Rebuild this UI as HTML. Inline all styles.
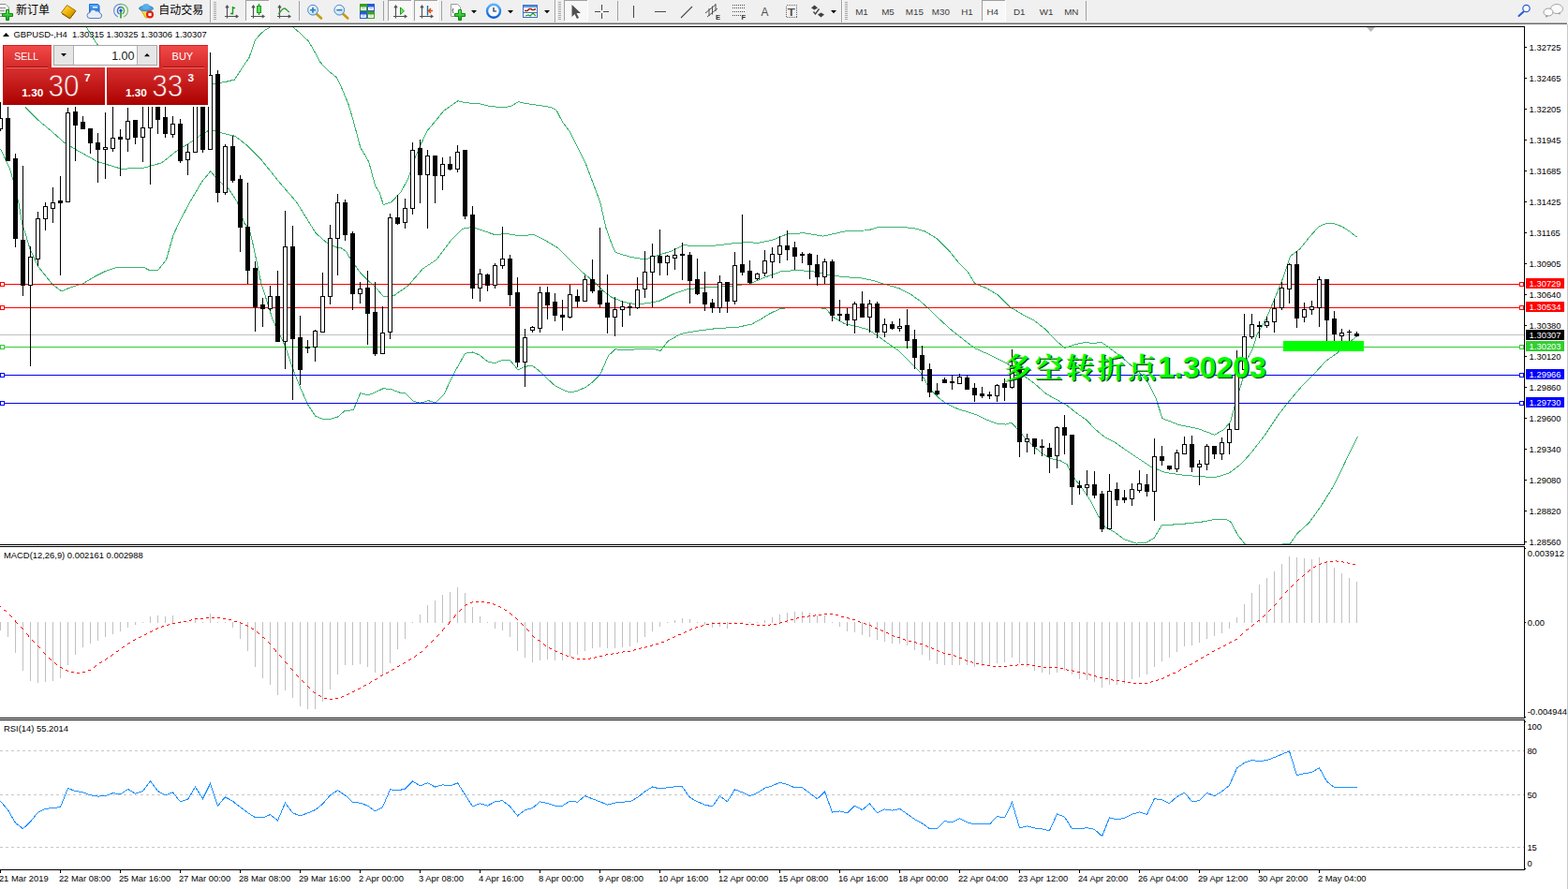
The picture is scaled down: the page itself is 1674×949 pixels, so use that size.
<!DOCTYPE html><html><head><meta charset="utf-8"><title>GBPUSD H4</title>
<style>html,body{margin:0;padding:0;background:#fff;}body{width:1674px;height:949px;overflow:hidden;position:relative;font-family:"Liberation Sans", sans-serif;}svg{position:absolute;left:0;top:0;display:block}text{font-family:"Liberation Sans", sans-serif;}</style></head><body>
<svg width="1674" height="949" viewBox="0 0 1674 949">
<defs><clipPath id="cm"><rect x="0" y="29" width="1627" height="552"/></clipPath>
<linearGradient id="rg1" x1="0" y1="0" x2="0" y2="1"><stop offset="0" stop-color="#f24a4a"/><stop offset="1" stop-color="#d62a2a"/></linearGradient>
<linearGradient id="rg2" x1="0" y1="0" x2="0" y2="1"><stop offset="0" stop-color="#d83030"/><stop offset="1" stop-color="#ab0000"/></linearGradient>
<linearGradient id="rg2u" gradientUnits="userSpaceOnUse" x1="0" y1="72" x2="0" y2="112"><stop offset="0" stop-color="#d83030"/><stop offset="1" stop-color="#ab0000"/></linearGradient>
</defs>
<rect x="0" y="0" width="1674" height="949" fill="#fff"/>
<defs>
<linearGradient id="gold" x1="0" y1="0" x2="1" y2="1"><stop offset="0" stop-color="#ffe680"/><stop offset="0.5" stop-color="#f0b400"/><stop offset="1" stop-color="#b07800"/></linearGradient>
<linearGradient id="grn" x1="0" y1="0" x2="0" y2="1"><stop offset="0" stop-color="#6cf06c"/><stop offset="1" stop-color="#0aa00a"/></linearGradient>
<linearGradient id="blu" x1="0" y1="0" x2="0" y2="1"><stop offset="0" stop-color="#5ab4ff"/><stop offset="1" stop-color="#0a5ad0"/></linearGradient>
<radialGradient id="lens" cx="0.4" cy="0.35" r="0.7"><stop offset="0" stop-color="#ffffff"/><stop offset="1" stop-color="#b9dcf5"/></radialGradient>
<pattern id="chk" width="2" height="2" patternUnits="userSpaceOnUse"><rect width="2" height="2" fill="#fff"/><rect width="1" height="1" fill="#f0f0f0"/><rect x="1" y="1" width="1" height="1" fill="#f0f0f0"/></pattern>
</defs>
<g shape-rendering="crispEdges">
<rect x="0" y="0" width="1674" height="24" fill="#f0f0f0"/>
<rect x="0" y="24" width="1673" height="1" fill="#b2b2b2"/>
<rect x="0" y="25" width="1673" height="1" fill="#6a6a6a"/>
<rect x="224" y="0" width="1" height="24" fill="#a0a0a0"/><rect x="225" y="0" width="1" height="24" fill="#fff"/>
<rect x="592" y="0" width="1" height="24" fill="#a0a0a0"/><rect x="593" y="0" width="1" height="24" fill="#fff"/>
<rect x="898" y="0" width="1" height="24" fill="#a0a0a0"/><rect x="899" y="0" width="1" height="24" fill="#fff"/>
<rect x="319" y="1" width="1" height="21" fill="#a0a0a0"/>
<rect x="409" y="1" width="1" height="21" fill="#a0a0a0"/>
<rect x="471" y="1" width="1" height="21" fill="#a0a0a0"/>
<rect x="659" y="1" width="1" height="21" fill="#a0a0a0"/>
<rect x="1159" y="1" width="1" height="21" fill="#a0a0a0"/>
<rect x="228" y="2" width="3" height="1" fill="#a8a8a8"/>
<rect x="228" y="4" width="3" height="1" fill="#a8a8a8"/>
<rect x="228" y="6" width="3" height="1" fill="#a8a8a8"/>
<rect x="228" y="8" width="3" height="1" fill="#a8a8a8"/>
<rect x="228" y="10" width="3" height="1" fill="#a8a8a8"/>
<rect x="228" y="12" width="3" height="1" fill="#a8a8a8"/>
<rect x="228" y="14" width="3" height="1" fill="#a8a8a8"/>
<rect x="228" y="16" width="3" height="1" fill="#a8a8a8"/>
<rect x="228" y="18" width="3" height="1" fill="#a8a8a8"/>
<rect x="228" y="20" width="3" height="1" fill="#a8a8a8"/>
<rect x="596" y="2" width="3" height="1" fill="#a8a8a8"/>
<rect x="596" y="4" width="3" height="1" fill="#a8a8a8"/>
<rect x="596" y="6" width="3" height="1" fill="#a8a8a8"/>
<rect x="596" y="8" width="3" height="1" fill="#a8a8a8"/>
<rect x="596" y="10" width="3" height="1" fill="#a8a8a8"/>
<rect x="596" y="12" width="3" height="1" fill="#a8a8a8"/>
<rect x="596" y="14" width="3" height="1" fill="#a8a8a8"/>
<rect x="596" y="16" width="3" height="1" fill="#a8a8a8"/>
<rect x="596" y="18" width="3" height="1" fill="#a8a8a8"/>
<rect x="596" y="20" width="3" height="1" fill="#a8a8a8"/>
<rect x="902" y="2" width="3" height="1" fill="#a8a8a8"/>
<rect x="902" y="4" width="3" height="1" fill="#a8a8a8"/>
<rect x="902" y="6" width="3" height="1" fill="#a8a8a8"/>
<rect x="902" y="8" width="3" height="1" fill="#a8a8a8"/>
<rect x="902" y="10" width="3" height="1" fill="#a8a8a8"/>
<rect x="902" y="12" width="3" height="1" fill="#a8a8a8"/>
<rect x="902" y="14" width="3" height="1" fill="#a8a8a8"/>
<rect x="902" y="16" width="3" height="1" fill="#a8a8a8"/>
<rect x="902" y="18" width="3" height="1" fill="#a8a8a8"/>
<rect x="902" y="20" width="3" height="1" fill="#a8a8a8"/>
<rect x="262" y="0" width="25" height="22" fill="url(#chk)"/>
<rect x="262" y="0" width="25" height="1" fill="#a0a0a0"/><rect x="262" y="0" width="1" height="22" fill="#a0a0a0"/>
<rect x="262" y="22" width="25" height="1" fill="#fff"/><rect x="287" y="0" width="1" height="23" fill="#fff"/>
<rect x="414" y="0" width="25" height="22" fill="url(#chk)"/>
<rect x="414" y="0" width="25" height="1" fill="#a0a0a0"/><rect x="414" y="0" width="1" height="22" fill="#a0a0a0"/>
<rect x="414" y="22" width="25" height="1" fill="#fff"/><rect x="439" y="0" width="1" height="23" fill="#fff"/>
<rect x="442" y="0" width="25" height="22" fill="url(#chk)"/>
<rect x="442" y="0" width="25" height="1" fill="#a0a0a0"/><rect x="442" y="0" width="1" height="22" fill="#a0a0a0"/>
<rect x="442" y="22" width="25" height="1" fill="#fff"/><rect x="467" y="0" width="1" height="23" fill="#fff"/>
<rect x="602" y="0" width="25" height="22" fill="url(#chk)"/>
<rect x="602" y="0" width="25" height="1" fill="#a0a0a0"/><rect x="602" y="0" width="1" height="22" fill="#a0a0a0"/>
<rect x="602" y="22" width="25" height="1" fill="#fff"/><rect x="627" y="0" width="1" height="23" fill="#fff"/>
<rect x="1048" y="0" width="25" height="22" fill="url(#chk)"/>
<rect x="1048" y="0" width="25" height="1" fill="#a0a0a0"/><rect x="1048" y="0" width="1" height="22" fill="#a0a0a0"/>
<rect x="1048" y="22" width="25" height="1" fill="#fff"/><rect x="1073" y="0" width="1" height="23" fill="#fff"/>
</g>
<path d="M-1 4.5h7l3.5 3.5v9.5h-10.5z" fill="#fff" stroke="#8c8c8c" stroke-width="1"/>
<path d="M0 8.5h6M0 11.5h5M0 14.5h3" stroke="#9a9a9a" stroke-width="1.5"/>
<path d="M6.500 10.500h3v4h4v3h-4v4h-3v-4h-4v-3h4z" fill="url(#grn)" stroke="#0a8a0a" stroke-width="1"/>
<text x="17" y="14.6" font-size="12" fill="#000" style="font-family:'Liberation Sans','Noto Sans CJK SC',sans-serif">新订单</text>
<path d="M65.5 13.5L71.5 5.5L81 11.5L75 19.5z" fill="url(#gold)" stroke="#a87400" stroke-width="1"/>
<path d="M66 14.5L74.5 20L80.5 12" fill="none" stroke="#8a5a00" stroke-width="1"/>
<path d="M95.5 4.5h9l1.5 1.5v9h-10.5z" fill="url(#blu)" stroke="#1a6fd0" stroke-width="1"/>
<rect x="99" y="7" width="5" height="1.5" fill="#e8f4ff"/>
<path d="M96 19.5a3 3 0 0 1 0-6a3.5 3.5 0 0 1 6.5-1.5a3 3 0 0 1 4 2a2.8 2.8 0 0 1-0.5 5.5z" fill="#e6eef8" stroke="#5a7fc0" stroke-width="1"/>
<g fill="none" stroke-width="1.3">
<path d="M129 4.5a7 7 0 0 0 -3 13.5" stroke="#6a8fd8"/><path d="M129 7.5a4 4 0 0 0 -1.5 7.5" stroke="#3a6ad0"/>
<path d="M129 4.5a7 7 0 0 1 3 13.5" stroke="#7ab87a"/><path d="M129 7.5a4 4 0 0 1 1.5 7.5" stroke="#4aa84a"/>
</g><path d="M129 11v8.5" stroke="#22a022" stroke-width="1.6"/><circle cx="129" cy="11.2" r="1.6" fill="#2255cc"/>
<path d="M150.5 10.5h11l-4 8.5h-2z" fill="#ffd84a" stroke="#d8a800" stroke-width="1"/>
<ellipse cx="156" cy="9" rx="7.5" ry="2.8" fill="#4aa0e0" stroke="#2a78b8" stroke-width="0.8"/><ellipse cx="156" cy="7" rx="3.8" ry="3" fill="#5ab0ea"/>
<circle cx="160" cy="15.5" r="4" fill="#e02010"/><rect x="158.4" y="13.9" width="3.2" height="3.2" fill="#fff"/>
<text x="169.3" y="14.6" font-size="12" fill="#000" style="font-family:'Liberation Sans','Noto Sans CJK SC',sans-serif">自动交易</text>
<path d="M242.5 19.5V6M240.9 8.3l1.6-2.3l1.6 2.3M240 17.5H254 M251.7 15.9l2.300 1.600l-2.300 1.600" fill="none" stroke="#505050" stroke-width="1.15"/>
<path d="M248.5 7v8.5M246 14.5h2.5M248.5 8.5h2.5" stroke="#1a9a1a" stroke-width="1.4" fill="none"/>
<path d="M270.5 19.5V6M268.9 8.3l1.6-2.3l1.6 2.3M268 17.5H282 M279.7 15.9l2.300 1.600l-2.300 1.600" fill="none" stroke="#505050" stroke-width="1.15"/>
<path d="M276.5 4v12" stroke="#1a9a1a" stroke-width="1.4"/><rect x="274.5" y="6.5" width="4" height="7" fill="#5ae05a" stroke="#1a9a1a" stroke-width="1"/>
<path d="M298.5 19.5V6M296.9 8.3l1.6-2.3l1.6 2.3M296 17.5H310 M307.7 15.9l2.300 1.600l-2.300 1.600" fill="none" stroke="#505050" stroke-width="1.15"/>
<path d="M297 15c3-2 4-6 6.5-6s3 3 5.500 4" fill="none" stroke="#2aa02a" stroke-width="1.3"/>
<path d="M337.5 14.5l5.5 5" stroke="#c89a10" stroke-width="2.6" stroke-linecap="round"/>
<circle cx="334" cy="10.7" r="5.4" fill="url(#lens)" stroke="#4a8ad0" stroke-width="1"/>
<path d="M331 10.7h6" stroke="#3a80b8" stroke-width="1.8"/>
<path d="M334 7.7v6" stroke="#3a80b8" stroke-width="1.8"/>
<path d="M365.8 14.5l5.5 5" stroke="#c89a10" stroke-width="2.6" stroke-linecap="round"/>
<circle cx="362.3" cy="10.7" r="5.4" fill="url(#lens)" stroke="#4a8ad0" stroke-width="1"/>
<path d="M359.3 10.7h6" stroke="#3a80b8" stroke-width="1.8"/>
<rect x="384" y="4" width="8" height="8" fill="#3aa01a"/>
<rect x="385" y="7.5" width="6" height="3.5" fill="#f4f8ff"/><rect x="386.5" y="8.5" width="3" height="1" fill="#3aa01a" opacity="0.5"/>
<rect x="392" y="4" width="8" height="8" fill="#2a5ad8"/>
<rect x="393" y="7.5" width="6" height="3.5" fill="#f4f8ff"/><rect x="394.5" y="8.5" width="3" height="1" fill="#2a5ad8" opacity="0.5"/>
<rect x="384" y="12" width="8" height="8" fill="#2a5ad8"/>
<rect x="385" y="15.5" width="6" height="3.5" fill="#f4f8ff"/><rect x="386.5" y="16.5" width="3" height="1" fill="#2a5ad8" opacity="0.5"/>
<rect x="392" y="12" width="8" height="8" fill="#3aa01a"/>
<rect x="393" y="15.5" width="6" height="3.5" fill="#f4f8ff"/><rect x="394.5" y="16.5" width="3" height="1" fill="#3aa01a" opacity="0.5"/>
<path d="M422.5 19.5V6M420.9 8.3l1.6-2.3l1.6 2.3M420 17.5H434 M431.7 15.9l2.300 1.600l-2.300 1.600" fill="none" stroke="#505050" stroke-width="1.15"/>
<path d="M427.5 8v7.5l4-3.7z" fill="#7ae07a" stroke="#1a9a1a" stroke-width="1"/>
<path d="M450.5 19.5V6M448.9 8.3l1.6-2.3l1.6 2.3M448 17.5H462 M459.7 15.9l2.300 1.600l-2.300 1.600" fill="none" stroke="#505050" stroke-width="1.15"/>
<path d="M456.5 6v10.5" stroke="#1a6ab0" stroke-width="1.4"/><path d="M457.5 11.5h4.5M460 9l-2.5 2.5l2.5 2.5" stroke="#e04800" stroke-width="1.4" fill="none"/>
<path d="M481.5 4.5h7l3 3v10h-10z" fill="#fff" stroke="#9a9a9a" stroke-width="1"/>
<path d="M484 9c-1 1-1 3 0 5" stroke="#444" stroke-width="1" fill="none"/>
<path d="M489.500 10.500h3v4h4v3h-4v4h-3v-4h-4v-3h4z" fill="url(#grn)" stroke="#0a8a0a" stroke-width="1"/>
<path d="M503 11h6l-3 3.2z" fill="#000"/>
<path d="M542 11h6l-3 3.2z" fill="#000"/>
<path d="M581 11h6l-3 3.2z" fill="#000"/>
<path d="M887 11h6l-3 3.2z" fill="#000"/>
<circle cx="527" cy="11.8" r="7" fill="#f4f8ff" stroke="url(#blu)" stroke-width="2.4"/><path d="M527 8v4h3" stroke="#222" stroke-width="1.2" fill="none"/>
<rect x="558.5" y="5.5" width="15" height="13" fill="#fff" stroke="#3a70c0" stroke-width="1"/><rect x="559" y="6" width="14" height="2" fill="#5a98e0"/><path d="M559 13.5h14" stroke="#3a70c0" stroke-width="1"/>
<path d="M560 11.5h3l2-2h2l1 1h2l2-1" stroke="#a02010" stroke-width="1.4" fill="none"/><path d="M561 17l3-1l2 1l3-3l3 3" stroke="#1a9a1a" stroke-width="1.2" fill="none"/>
<path d="M610.5 5v13l3-3l2.5 5l2-1l-2.5-5h4.5z" fill="#505050"/>
<path d="M642.5 5v6M642.5 14v6M635 12.5h6M644 12.5h6" stroke="#4a4a4a" stroke-width="1.1"/>
<path d="M676.5 6v13M699 12.5h12M727 19L739 7" stroke="#4a4a4a" stroke-width="1.1" fill="none"/>
<path d="M753 14l11-9M755 18l11-9M757 9v8M760.5 6.5v9M764 4v8" stroke="#505050" stroke-width="1" fill="none"/>
<text x="764" y="21" font-size="7.5" font-weight="bold" fill="#303030">E</text>
<path d="M782 5.5h14" stroke="#505050" stroke-width="1" stroke-dasharray="1 1"/>
<path d="M782 8.5h14" stroke="#505050" stroke-width="1" stroke-dasharray="1 1"/>
<path d="M782 12.5h14" stroke="#505050" stroke-width="1" stroke-dasharray="1 1"/>
<path d="M782 16.5h9" stroke="#505050" stroke-width="1" stroke-dasharray="1 1"/>
<text x="791.5" y="21" font-size="7.5" font-weight="bold" fill="#303030">F</text>
<text x="812.600" y="17" font-size="12.400" fill="#505050" textLength="7.900" lengthAdjust="spacingAndGlyphs">A</text>
<rect x="839.500" y="5.500" width="11" height="13" fill="none" stroke="#606060" stroke-width="1" stroke-dasharray="1 1" shape-rendering="crispEdges"/><text x="840.800" y="16.700" font-size="10.600" fill="#505050" font-weight="bold" textLength="8" lengthAdjust="spacingAndGlyphs">T</text>
<path d="M866 8.500l3.500-3l3.500 3l-3.500 2zM873 15.500l3.500-2l3.500 2l-3.500 3z" fill="#404040"/><path d="M868.500 12.500l2 2.500l4-5.500" stroke="#404040" stroke-width="1.300" fill="none"/>
<text x="920" y="16" font-size="9.8" fill="#3c3c3c" text-anchor="middle">M1</text>
<text x="948" y="16" font-size="9.8" fill="#3c3c3c" text-anchor="middle">M5</text>
<text x="976.3" y="16" font-size="9.8" fill="#3c3c3c" text-anchor="middle">M15</text>
<text x="1004.4" y="16" font-size="9.8" fill="#3c3c3c" text-anchor="middle">M30</text>
<text x="1032.5" y="16" font-size="9.8" fill="#3c3c3c" text-anchor="middle">H1</text>
<text x="1059.7" y="16" font-size="9.8" fill="#3c3c3c" text-anchor="middle">H4</text>
<text x="1088.3" y="16" font-size="9.8" fill="#3c3c3c" text-anchor="middle">D1</text>
<text x="1117" y="16" font-size="9.8" fill="#3c3c3c" text-anchor="middle">W1</text>
<text x="1143.8" y="16" font-size="9.8" fill="#3c3c3c" text-anchor="middle">MN</text>
<path d="M1626.5 12.5l-5 4.5" stroke="#2a5ad0" stroke-width="2" stroke-linecap="round"/><circle cx="1629.500" cy="9" r="3.700" fill="#f6f9ff" stroke="#2a5ad0" stroke-width="1.200"/>
<ellipse cx="1662" cy="9.5" rx="6.5" ry="5" fill="#fbfbfd" stroke="#a4a4a4" stroke-width="1"/><path d="M1663.500 14l2 2v-2.500z" fill="#909090"/>
<ellipse cx="1653" cy="13" rx="5" ry="4" fill="#fdfdfd" stroke="#9c9c9c" stroke-width="1"/><path d="M1650 16.500l0.500 2.500l2-2z" fill="#909090"/>
<g shape-rendering="crispEdges">
<rect x="0" y="28" width="1628" height="1" fill="#000"/>
<rect x="1627" y="28" width="1" height="554" fill="#000"/>
<rect x="0" y="581" width="1628" height="1" fill="#000"/>
<rect x="0" y="583" width="1628" height="1" fill="#000"/>
<rect x="1627" y="583" width="1" height="184" fill="#000"/>
<rect x="0" y="766" width="1628" height="1" fill="#000"/>
<rect x="0" y="768" width="1628" height="1" fill="#000"/>
<rect x="1627" y="768" width="1" height="161" fill="#000"/>
<rect x="0" y="928" width="1628" height="1" fill="#000"/>
<rect x="1673" y="26" width="1" height="923" fill="#c8c8c8"/>
<rect x="1628" y="50" width="2" height="1" fill="#000"/>
<rect x="1628" y="83" width="2" height="1" fill="#000"/>
<rect x="1628" y="116" width="2" height="1" fill="#000"/>
<rect x="1628" y="149" width="2" height="1" fill="#000"/>
<rect x="1628" y="182" width="2" height="1" fill="#000"/>
<rect x="1628" y="215" width="2" height="1" fill="#000"/>
<rect x="1628" y="248" width="2" height="1" fill="#000"/>
<rect x="1628" y="281" width="2" height="1" fill="#000"/>
<rect x="1628" y="314" width="2" height="1" fill="#000"/>
<rect x="1628" y="347" width="2" height="1" fill="#000"/>
<rect x="1628" y="380" width="2" height="1" fill="#000"/>
<rect x="1628" y="413" width="2" height="1" fill="#000"/>
<rect x="1628" y="446" width="2" height="1" fill="#000"/>
<rect x="1628" y="479" width="2" height="1" fill="#000"/>
<rect x="1628" y="512" width="2" height="1" fill="#000"/>
<rect x="1628" y="545" width="2" height="1" fill="#000"/>
<rect x="1628" y="578" width="2" height="1" fill="#000"/>
<rect x="1628" y="585" width="1" height="1" fill="#000"/>
<rect x="1628" y="664" width="1" height="1" fill="#000"/>
<rect x="1628" y="765" width="1" height="1" fill="#000"/>
<rect x="1628" y="770" width="1" height="1" fill="#000"/>
<rect x="1628" y="927" width="1" height="1" fill="#000"/>
<rect x="0" y="929" width="1" height="3" fill="#000"/>
<rect x="64" y="929" width="1" height="3" fill="#000"/>
<rect x="128" y="929" width="1" height="3" fill="#000"/>
<rect x="192" y="929" width="1" height="3" fill="#000"/>
<rect x="256" y="929" width="1" height="3" fill="#000"/>
<rect x="320" y="929" width="1" height="3" fill="#000"/>
<rect x="384" y="929" width="1" height="3" fill="#000"/>
<rect x="448" y="929" width="1" height="3" fill="#000"/>
<rect x="512" y="929" width="1" height="3" fill="#000"/>
<rect x="576" y="929" width="1" height="3" fill="#000"/>
<rect x="640" y="929" width="1" height="3" fill="#000"/>
<rect x="704" y="929" width="1" height="3" fill="#000"/>
<rect x="768" y="929" width="1" height="3" fill="#000"/>
<rect x="832" y="929" width="1" height="3" fill="#000"/>
<rect x="896" y="929" width="1" height="3" fill="#000"/>
<rect x="960" y="929" width="1" height="3" fill="#000"/>
<rect x="1024" y="929" width="1" height="3" fill="#000"/>
<rect x="1088" y="929" width="1" height="3" fill="#000"/>
<rect x="1152" y="929" width="1" height="3" fill="#000"/>
<rect x="1216" y="929" width="1" height="3" fill="#000"/>
<rect x="1280" y="929" width="1" height="3" fill="#000"/>
<rect x="1344" y="929" width="1" height="3" fill="#000"/>
<rect x="1408" y="929" width="1" height="3" fill="#000"/>
</g>
<g clip-path="url(#cm)" shape-rendering="crispEdges">
<rect x="0" y="357" width="1627" height="1" fill="#c0c0c0"/>
<polyline fill="none" stroke="#3cb371" stroke-width="1"  points="85.5,15.5 92.5,29.5 102.5,45.5 110.5,55.5 130.5,70.5 160.5,82.5 200.5,90.5 222.5,90 229.3,89.2 240.5,87.5 250.5,85 258.5,72.5 266,61.5 272.5,42.5 278.5,36 283.5,31.5 288.5,29.5 295.5,22.5 305.5,22.5 314,30 320.5,35.5 324.9,39.9 329.2,43.7 337.4,57.8 341.8,66.4 350.5,75.5 359.5,82.9 365.5,95.5 372.2,111.9 376.8,127.5 384.8,157.5 393.7,172.6 400.5,198 405.1,205.5 409.3,218.5 418.2,215.5 428.3,204.5 435.9,190.3 443.5,167.6 448.5,155.7 456.1,139.8 473.8,118.3 489,107.6 496.6,109.9 509.2,110.2 521.9,113.2 537,115 545.9,113.2 553.5,108.7 562.3,110.7 577.5,112.7 587.6,114.5 593.9,117.5 600.2,129.6 607.8,139.8 617.9,160 625.5,175.2 633.1,195.4 640.7,215.6 647,243.4 653.3,261.1 657.1,269.5 673.6,274.5 688.7,277 703.9,272 716.6,268.2 729.2,261.9 759.5,262.6 787.4,259.3 800.5,258.4 808.1,259.7 825.8,255.9 841,249.6 858.7,248.8 878.9,252.1 901.6,247 926.9,245.8 937,242.8 957.3,242.5 975,243.3 987.6,247 1000.2,254.6 1012.9,267.3 1023,279.9 1033.1,290 1040.7,302.700 1053.3,307.700 1066,315.3 1078.6,328 1091.3,335.5 1103.9,341.9 1116.6,352 1126.7,363 1136.8,371.5 1146.9,367.9 1159.5,365.4 1167.1,366.6 1176,365.3 1187.4,373.7 1197.5,381.1 1200.5,384 1215.7,396.8 1225.8,408.5 1233.4,423.5 1241,446.7 1258.7,453.5 1278.9,457.5 1296.6,464.3 1306.7,458.5 1313.5,450.5 1318.7,431.5 1323.5,415.5 1329.5,396.1 1332,382.3 1337,373.3 1342.1,357 1352.2,339.3 1362.3,315.3 1369.9,296.4 1377.5,273.6 1387.6,266 1397.7,253.4 1407.8,242 1415.4,238.7 1424.3,238.7 1433.1,242 1440.7,247 1448.3,252.9"/>
<polyline fill="none" stroke="#3cb371" stroke-width="1"  points="27,114.5 41,128.4 55.5,140.5 68.8,152.4 81.5,160 104.2,172.6 129.5,180.2 152.2,179.5 172.5,173.9 190.1,160 202.8,152.4 215.5,143.5 224.3,138.5 238.2,142.3 250.8,145.3 263.5,154.9 278.6,170.1 298.9,195.4 316.5,215.6 336.8,248.5 349.5,259.7 359.5,264 364.5,265 369.5,268.5 374.7,277.3 384.8,291.2 394.9,301.3 400.5,306.1 409.3,316.5 420.7,315.5 435.9,304.8 451.1,287.1 466.2,277 481.4,256.8 494.1,244.2 504.2,242.4 516.8,246.7 529.4,251 539.6,249.2 554.7,251.8 569.9,250.5 582.5,256.8 595.2,264.4 607.8,277 620.5,289.7 633.1,299.8 643.2,309.9 653.3,317.5 666,322.5 678.6,324.6 691.3,323.8 703.9,321.3 719.1,313.7 734.3,308.6 754.5,306.9 767.1,306.1 784.8,304.8 800.5,303 815.7,296.4 833.4,290 851.1,288.3 868.8,290 886.5,293.8 901.6,295.8 916.8,296.4 932,299.4 944.6,303.4 959.8,307.7 972.4,314.1 982.5,321.6 992.7,330.5 1002.8,340.6 1015.4,352 1028.1,362.1 1040.7,371.7 1053.3,377.3 1066,383.6 1076.1,388.6 1091.3,400 1103.9,408.9 1116.6,420.2 1129.2,427.3 1139.3,432.9 1149.4,441 1159.5,448 1169.6,458.5 1179.8,466.9 1189.9,471.9 1200.5,479.5 1215.7,489.6 1228.3,498 1243.5,504.3 1263.7,507.3 1281.4,508.6 1296.6,509.8 1311.8,505.3 1324.4,495.9 1337,482 1352.2,461.8 1364.8,442.9 1375,429.7 1390.1,412 1402.8,399.3 1415.4,385.5 1428.1,376.5 1440.7,365.2 1449.6,358.2"/>
<polyline fill="none" stroke="#3cb371" stroke-width="1"  points="0.5,158.7 10.5,180.2 16.5,200.5 20.7,220.7 23.5,238.5 27.5,250.5 32.1,266.2 41,284.9 56.1,303.8 65.7,310.9 76.4,306.4 89,302.6 101.6,295 111.8,289.9 124.4,285.6 139.6,285.4 153.5,285.4 159.8,288.7 168.6,288.7 177.5,277.3 185.1,250.7 192.7,234.5 202.8,215.6 215.5,194.1 224.8,182.7 233.1,192.9 243.2,200.4 253.3,215.6 260.9,238.4 266,243.5 270.5,262.5 278.6,301.3 291.3,341.8 303.9,368.3 314,397.4 321.6,416.3 329.2,432.8 336.8,444.2 344.4,447.2 353.2,447.2 360.8,444.9 368.4,438.3 377.2,437.8 384.8,419.6 392.7,421.9 400.5,418.9 409.3,414.6 418.2,415.8 425.8,418.9 433.4,420.1 441,428.2 448.5,430.3 457.4,427.7 465,429.8 473.8,421.4 483.9,399.9 496.6,377.2 504.2,375.9 511.8,378.9 520.6,386 528.2,387.8 537,384 544.6,384.7 553,394.9 561.1,391.1 568.6,390.6 577.5,397.4 585.1,405 592.7,411.8 601.5,416.4 609.1,418.9 616.7,417.1 625.5,413.3 633.1,407.5 640.7,399.9 649.5,379.7 657.1,372.6 664.7,373.9 678.6,372.9 698.9,372.6 705.2,374.6 712.8,364.5 726.7,356.4 741.8,353.6 764.6,350.6 787.4,349.3 802.5,346.1 811.4,341.3 820.5,335.5 833.4,329.2 850.5,328.5 865.5,328.5 881.4,329.2 889,338.1 901.6,345.7 914.3,348.2 926.9,352 937,358.3 947.1,365.9 959.8,374.7 972.4,387.4 982.5,397.5 992.7,415.2 1002.8,425.3 1010.4,430.9 1023,436.7 1035.6,440.5 1043.2,443 1053.3,448.1 1063.4,451.9 1073.6,453.1 1079.9,451.2 1086.2,458 1093.8,466.9 1101.4,474.4 1111.5,483.3 1121.6,489.6 1131.7,491.6 1139.3,495.9 1144.4,507.3 1154.5,520 1164.6,535.1 1172.2,550.3 1179.8,562.9 1189.9,568 1200,575.6 1213.1,580.1 1223.3,579.4 1232.1,574.3 1240.2,560.9 1263.7,559.2 1281.4,557.4 1296.6,554.6 1309.2,554.6 1313.5,556.6 1321.9,571.8 1329.5,581.2 1335.5,590.5 1360.5,590.5 1367.4,581.2 1377.5,580.1 1385.1,569.3 1397.7,557.9 1410.4,540.2 1423,520 1433.1,499.7 1440.7,483.3 1449.6,465.6"/>
<rect x="0" y="303" width="1627" height="1" fill="#ff0000"/>
<rect x="0.5" y="301.5" width="4" height="4" fill="#fff" stroke="#ff0000"/>
<rect x="1622.5" y="301.5" width="4" height="4" fill="#fff" stroke="#ff0000"/>
<rect x="0" y="328" width="1627" height="1" fill="#ff0000"/>
<rect x="0.5" y="326.5" width="4" height="4" fill="#fff" stroke="#ff0000"/>
<rect x="1622.5" y="326.5" width="4" height="4" fill="#fff" stroke="#ff0000"/>
<rect x="0" y="370" width="1627" height="1" fill="#32cd32"/>
<rect x="0.5" y="368.5" width="4" height="4" fill="#fff" stroke="#32cd32"/>
<rect x="1622.5" y="368.5" width="4" height="4" fill="#fff" stroke="#32cd32"/>
<rect x="0" y="400" width="1627" height="1" fill="#0000ff"/>
<rect x="0.5" y="398.5" width="4" height="4" fill="#fff" stroke="#0000ff"/>
<rect x="1622.5" y="398.5" width="4" height="4" fill="#fff" stroke="#0000ff"/>
<rect x="0" y="430" width="1627" height="1" fill="#0000ff"/>
<rect x="0.5" y="428.5" width="4" height="4" fill="#fff" stroke="#0000ff"/>
<rect x="1622.5" y="428.5" width="4" height="4" fill="#fff" stroke="#0000ff"/>
<path d="M0 109h1v31h-1zM-2 126h5v12h-5zM8 114h1v58h-1zM6 126h5v46h-5zM16 164h1v100h-1zM14 169h5v86h-5zM24 177h1v139h-1zM22 256h5v49h-5zM32 263h1v128h-1zM30 274h5v31h-5zM40 226h1v58h-1zM38 233h5v44h-5zM48 216h1v30h-1zM46 220h5v14h-5zM56 200h1v38h-1zM54 216h5v7h-5zM64 188h1v106h-1zM62 214h5v3h-5zM72 115h1v101h-1zM70 120h5v96h-5zM80 114h1v58h-1zM78 119h5v15h-5zM88 124h1v14h-1zM86 130h5v8h-5zM96 137h1v27h-1zM94 137h5v16h-5zM104 142h1v53h-1zM102 152h5v8h-5zM112 120h1v71h-1zM110 157h5v3h-5zM120 114h1v48h-1zM118 147h5v12h-5zM128 138h1v50h-1zM126 146h5v3h-5zM136 115h1v47h-1zM134 129h5v20h-5zM144 128h1v26h-1zM142 128h5v19h-5zM152 110h1v63h-1zM150 136h5v11h-5zM160 90h1v107h-1zM158 95h5v42h-5zM168 90h1v53h-1zM166 95h5v33h-5zM176 110h1v37h-1zM174 125h5v18h-5zM184 124h1v23h-1zM182 132h5v12h-5zM192 127h1v47h-1zM190 132h5v40h-5zM200 154h1v33h-1zM198 162h5v9h-5zM208 100h1v63h-1zM206 105h5v58h-5zM216 100h1v63h-1zM214 105h5v55h-5zM224 56h1v104h-1zM222 80h5v80h-5zM232 75h1v141h-1zM230 79h5v127h-5zM240 154h1v54h-1zM238 156h5v50h-5zM248 145h1v50h-1zM246 156h5v37h-5zM256 187h1v82h-1zM254 191h5v52h-5zM264 195h1v108h-1zM262 242h5v47h-5zM272 279h1v75h-1zM270 286h5v42h-5zM280 318h1v31h-1zM278 325h5v5h-5zM288 305h1v27h-1zM286 316h5v14h-5zM296 289h1v76h-1zM294 316h5v49h-5zM304 225h1v169h-1zM302 263h5v102h-5zM312 241h1v186h-1zM310 263h5v99h-5zM320 337h1v74h-1zM318 360h5v35h-5zM328 363h1v14h-1zM326 370h5v2h-5zM336 352h1v34h-1zM334 353h5v18h-5zM344 291h1v64h-1zM342 316h5v39h-5zM352 240h1v85h-1zM350 254h5v63h-5zM360 207h1v87h-1zM358 216h5v39h-5zM368 213h1v44h-1zM366 216h5v35h-5zM376 247h1v84h-1zM374 249h5v65h-5zM384 301h1v23h-1zM382 308h5v6h-5zM392 289h1v79h-1zM390 307h5v28h-5zM400 301h1v79h-1zM398 333h5v45h-5zM408 327h1v51h-1zM406 355h5v23h-5zM416 228h1v134h-1zM414 232h5v123h-5zM424 208h1v32h-1zM422 232h5v7h-5zM432 212h1v32h-1zM430 222h5v16h-5zM440 152h1v77h-1zM438 160h5v63h-5zM448 149h1v68h-1zM446 158h5v29h-5zM456 160h1v84h-1zM454 166h5v21h-5zM464 166h1v51h-1zM462 166h5v22h-5zM472 168h1v35h-1zM470 175h5v13h-5zM480 167h1v15h-1zM478 175h5v6h-5zM488 155h1v29h-1zM486 162h5v19h-5zM496 160h1v74h-1zM494 160h5v71h-5zM504 220h1v99h-1zM502 229h5v79h-5zM512 287h1v35h-1zM510 292h5v16h-5zM520 292h1v19h-1zM518 293h5v12h-5zM528 281h1v27h-1zM526 283h5v22h-5zM536 242h1v45h-1zM534 276h5v8h-5zM544 272h1v55h-1zM542 276h5v39h-5zM552 296h1v96h-1zM550 312h5v75h-5zM560 351h1v62h-1zM558 360h5v27h-5zM568 348h1v7h-1zM566 349h5v4h-5zM576 306h1v49h-1zM574 312h5v39h-5zM584 306h1v35h-1zM582 312h5v14h-5zM592 313h1v30h-1zM590 322h5v15h-5zM600 320h1v33h-1zM598 336h5v3h-5zM608 304h1v36h-1zM606 314h5v25h-5zM616 309h1v19h-1zM614 316h5v6h-5zM624 294h1v28h-1zM622 298h5v24h-5zM632 277h1v36h-1zM630 298h5v13h-5zM640 243h1v85h-1zM638 310h5v15h-5zM648 293h1v63h-1zM646 323h5v16h-5zM656 317h1v42h-1zM654 330h5v9h-5zM664 321h1v28h-1zM662 327h5v4h-5zM672 324h1v13h-1zM670 327h5v2h-5zM680 296h1v34h-1zM678 309h5v20h-5zM688 268h1v50h-1zM686 290h5v19h-5zM696 260h1v68h-1zM694 273h5v18h-5zM704 245h1v49h-1zM702 273h5v8h-5zM712 272h1v22h-1zM710 273h5v8h-5zM720 265h1v23h-1zM718 272h5v4h-5zM728 259h1v40h-1zM726 271h5v2h-5zM736 269h1v55h-1zM734 272h5v28h-5zM744 276h1v39h-1zM742 298h5v16h-5zM752 290h1v42h-1zM750 312h5v13h-5zM760 319h1v15h-1zM758 323h5v6h-5zM768 294h1v40h-1zM766 301h5v28h-5zM776 301h1v33h-1zM774 301h5v21h-5zM784 269h1v56h-1zM782 283h5v39h-5zM792 229h1v65h-1zM790 282h5v9h-5zM800 278h1v25h-1zM798 289h5v13h-5zM808 291h1v8h-1zM806 292h5v6h-5zM816 267h1v28h-1zM814 278h5v14h-5zM824 264h1v33h-1zM822 271h5v9h-5zM832 252h1v29h-1zM830 262h5v10h-5zM840 246h1v32h-1zM838 262h5v5h-5zM848 258h1v30h-1zM846 264h5v10h-5zM856 269h1v12h-1zM854 271h5v2h-5zM864 270h1v28h-1zM862 271h5v12h-5zM872 272h1v33h-1zM870 282h5v14h-5zM880 276h1v27h-1zM878 279h5v17h-5zM888 277h1v66h-1zM886 279h5v58h-5zM896 320h1v23h-1zM894 335h5v2h-5zM904 329h1v19h-1zM902 335h5v7h-5zM912 322h1v34h-1zM910 324h5v18h-5zM920 311h1v28h-1zM918 324h5v15h-5zM928 320h1v35h-1zM926 324h5v15h-5zM936 322h1v39h-1zM934 324h5v31h-5zM944 340h1v20h-1zM942 346h5v9h-5zM952 343h1v9h-1zM950 346h5v5h-5zM960 340h1v14h-1zM958 348h5v3h-5zM968 330h1v42h-1zM966 347h5v17h-5zM976 352h1v42h-1zM974 362h5v20h-5zM984 369h1v38h-1zM982 379h5v16h-5zM992 388h1v36h-1zM990 394h5v25h-5zM1000 409h1v13h-1zM998 417h5v4h-5zM1008 403h1v6h-1zM1006 405h5v4h-5zM1016 400h1v16h-1zM1014 407h5v2h-5zM1024 399h1v11h-1zM1022 402h5v8h-5zM1032 401h1v15h-1zM1030 403h5v13h-5zM1040 409h1v20h-1zM1038 414h5v8h-5zM1048 413h1v12h-1zM1046 420h5v3h-5zM1056 418h1v8h-1zM1054 421h5v2h-5zM1064 410h1v19h-1zM1062 411h5v12h-5zM1072 404h1v24h-1zM1070 409h5v5h-5zM1080 373h1v42h-1zM1078 390h5v24h-5zM1088 390h1v98h-1zM1086 390h5v82h-5zM1096 463h1v20h-1zM1094 468h5v4h-5zM1104 468h1v17h-1zM1102 468h5v9h-5zM1112 469h1v18h-1zM1110 476h5v2h-5zM1120 473h1v32h-1zM1118 478h5v10h-5zM1128 455h1v45h-1zM1126 456h5v31h-5zM1136 443h1v42h-1zM1134 456h5v9h-5zM1144 464h1v75h-1zM1142 464h5v56h-5zM1152 513h1v15h-1zM1150 518h5v3h-5zM1160 502h1v27h-1zM1158 517h5v4h-5zM1168 503h1v29h-1zM1166 517h5v12h-5zM1176 524h1v44h-1zM1174 527h5v38h-5zM1184 506h1v59h-1zM1182 524h5v41h-5zM1192 515h1v25h-1zM1190 522h5v12h-5zM1200 523h1v14h-1zM1198 531h5v3h-5zM1208 516h1v24h-1zM1206 522h5v11h-5zM1216 502h1v24h-1zM1214 516h5v8h-5zM1224 506h1v24h-1zM1222 517h5v8h-5zM1232 468h1v88h-1zM1230 487h5v38h-5zM1240 476h1v21h-1zM1238 487h5v5h-5zM1248 497h1v5h-1zM1246 497h5v4h-5zM1256 480h1v24h-1zM1254 483h5v18h-5zM1264 466h1v19h-1zM1262 474h5v11h-5zM1272 465h1v39h-1zM1270 474h5v25h-5zM1280 491h1v27h-1zM1278 495h5v4h-5zM1288 474h1v28h-1zM1286 476h5v20h-5zM1296 476h1v14h-1zM1294 476h5v9h-5zM1304 467h1v24h-1zM1302 472h5v13h-5zM1312 452h1v33h-1zM1310 458h5v15h-5zM1320 374h1v85h-1zM1318 394h5v65h-5zM1328 335h1v60h-1zM1326 359h5v36h-5zM1336 335h1v27h-1zM1334 346h5v14h-5zM1344 343h1v18h-1zM1342 347h5v2h-5zM1352 338h1v12h-1zM1350 343h5v5h-5zM1360 319h1v36h-1zM1358 329h5v15h-5zM1368 301h1v30h-1zM1366 307h5v22h-5zM1376 281h1v43h-1zM1374 282h5v27h-5zM1384 268h1v82h-1zM1382 282h5v58h-5zM1392 323h1v21h-1zM1390 330h5v9h-5zM1400 321h1v15h-1zM1398 327h5v4h-5zM1408 295h1v54h-1zM1406 298h5v31h-5zM1416 298h1v66h-1zM1414 298h5v44h-5zM1424 332h1v32h-1zM1422 340h5v17h-5zM1432 351h1v13h-1zM1430 355h5v4h-5zM1440 352h1v12h-1zM1438 354h5v1h-5zM1448 354h1v5h-1zM1446 356h5v3h-5z" fill="#000"/>
<path d="M-1 127h3v10h-3zM31 275h3v29h-3zM39 234h3v42h-3zM47 221h3v12h-3zM55 217h3v5h-3zM71 121h3v94h-3zM111 158h3v1h-3zM119 148h3v10h-3zM135 130h3v18h-3zM151 137h3v9h-3zM159 96h3v40h-3zM183 133h3v10h-3zM199 163h3v7h-3zM207 106h3v56h-3zM223 81h3v78h-3zM239 157h3v48h-3zM287 317h3v12h-3zM303 264h3v100h-3zM335 354h3v16h-3zM343 317h3v37h-3zM351 255h3v61h-3zM359 217h3v37h-3zM383 309h3v4h-3zM407 356h3v21h-3zM415 233h3v121h-3zM431 223h3v14h-3zM439 161h3v61h-3zM455 167h3v19h-3zM471 176h3v11h-3zM487 163h3v17h-3zM511 293h3v14h-3zM527 284h3v20h-3zM535 277h3v6h-3zM559 361h3v25h-3zM567 350h3v2h-3zM575 313h3v37h-3zM607 315h3v23h-3zM623 299h3v22h-3zM655 331h3v7h-3zM663 328h3v2h-3zM679 310h3v18h-3zM687 291h3v17h-3zM695 274h3v16h-3zM711 274h3v6h-3zM719 273h3v2h-3zM767 302h3v26h-3zM783 284h3v37h-3zM807 293h3v4h-3zM815 279h3v12h-3zM823 272h3v7h-3zM831 263h3v8h-3zM879 280h3v15h-3zM911 325h3v16h-3zM927 325h3v13h-3zM943 347h3v7h-3zM959 349h3v1h-3zM1023 403h3v6h-3zM1063 412h3v10h-3zM1079 391h3v22h-3zM1095 469h3v2h-3zM1127 457h3v29h-3zM1159 518h3v2h-3zM1183 525h3v39h-3zM1207 523h3v9h-3zM1215 517h3v6h-3zM1231 488h3v36h-3zM1255 484h3v16h-3zM1263 475h3v9h-3zM1279 496h3v2h-3zM1287 477h3v18h-3zM1303 473h3v11h-3zM1311 459h3v13h-3zM1319 395h3v63h-3zM1327 360h3v34h-3zM1335 347h3v12h-3zM1351 344h3v3h-3zM1359 330h3v13h-3zM1367 308h3v20h-3zM1375 283h3v25h-3zM1391 331h3v7h-3zM1399 328h3v2h-3zM1407 299h3v29h-3zM1431 356h3v2h-3z" fill="#fff"/>
<rect x="1370" y="364" width="86" height="11" fill="#00ff00"/>
</g>
<path d="M1459 29h9l-4.500 5z" fill="#b4b4b4"/>
<text x="1072.4" y="403.900" font-size="30" font-weight="bold" letter-spacing="3.25" fill="#0b3d0b" style="font-family:'Liberation Serif','Noto Serif CJK SC',serif">多空转折点</text>
<text x="1237.2" y="404" font-size="32" font-weight="bold" fill="#0b3d0b">1.30203</text>
<text x="1071.2" y="402.700" font-size="30" font-weight="bold" letter-spacing="3.25" fill="#00ff00" style="font-family:'Liberation Serif','Noto Serif CJK SC',serif">多空转折点</text>
<text x="1236" y="402.8" font-size="32" font-weight="bold" fill="#00ff00">1.30203</text>
<g shape-rendering="crispEdges">
<path d="M0 664h1v9h-1zM8 664h1v16h-1zM16 664h1v33h-1zM24 664h1v52h-1zM32 664h1v63h-1zM40 664h1v65h-1zM48 664h1v64h-1zM56 664h1v63h-1zM64 664h1v60h-1zM72 664h1v46h-1zM80 664h1v35h-1zM88 664h1v27h-1zM96 664h1v23h-1zM104 664h1v20h-1zM112 664h1v16h-1zM120 664h1v13h-1zM128 664h1v10h-1zM136 664h1v6h-1zM144 664h1v3h-1zM152 664h1v1h-1zM160 658h1v7h-1zM168 657h1v8h-1zM176 658h1v7h-1zM184 657h1v8h-1zM192 663h1v2h-1zM200 664h1v1h-1zM208 660h1v5h-1zM216 664h1v1h-1zM224 655h1v10h-1zM232 664h1v1h-1zM240 664h1v1h-1zM248 664h1v6h-1zM256 664h1v18h-1zM264 664h1v31h-1zM272 664h1v48h-1zM280 664h1v60h-1zM288 664h1v67h-1zM296 664h1v78h-1zM304 664h1v73h-1zM312 664h1v81h-1zM320 664h1v90h-1zM328 664h1v93h-1zM336 664h1v93h-1zM344 664h1v85h-1zM352 664h1v72h-1zM360 664h1v56h-1zM368 664h1v46h-1zM376 664h1v46h-1zM384 664h1v45h-1zM392 664h1v48h-1zM400 664h1v54h-1zM408 664h1v56h-1zM416 664h1v44h-1zM424 664h1v29h-1zM432 664h1v18h-1zM440 664h1v1h-1zM448 656h1v9h-1zM456 646h1v19h-1zM464 641h1v24h-1zM472 635h1v30h-1zM480 632h1v33h-1zM488 627h1v38h-1zM496 633h1v32h-1zM504 648h1v17h-1zM512 658h1v7h-1zM520 664h1v1h-1zM528 664h1v7h-1zM536 664h1v9h-1zM544 664h1v16h-1zM552 664h1v31h-1zM560 664h1v38h-1zM568 664h1v43h-1zM576 664h1v41h-1zM584 664h1v40h-1zM592 664h1v41h-1zM600 664h1v41h-1zM608 664h1v37h-1zM616 664h1v35h-1zM624 664h1v31h-1zM632 664h1v28h-1zM640 664h1v27h-1zM648 664h1v28h-1zM656 664h1v28h-1zM664 664h1v27h-1zM672 664h1v26h-1zM680 664h1v22h-1zM688 664h1v16h-1zM696 664h1v10h-1zM704 664h1v5h-1zM712 664h1v1h-1zM720 662h1v3h-1zM728 660h1v5h-1zM736 661h1v4h-1zM744 664h1v1h-1zM752 664h1v3h-1zM760 664h1v6h-1zM768 664h1v5h-1zM776 664h1v7h-1zM784 664h1v2h-1zM792 664h1v1h-1zM800 664h1v1h-1zM808 664h1v1h-1zM816 662h1v3h-1zM824 659h1v6h-1zM832 656h1v9h-1zM840 654h1v11h-1zM848 653h1v12h-1zM856 653h1v12h-1zM864 654h1v11h-1zM872 657h1v8h-1zM880 657h1v8h-1zM888 664h1v1h-1zM896 664h1v5h-1zM904 664h1v10h-1zM912 664h1v11h-1zM920 664h1v14h-1zM928 664h1v16h-1zM936 664h1v19h-1zM944 664h1v21h-1zM952 664h1v23h-1zM960 664h1v23h-1zM968 664h1v25h-1zM976 664h1v30h-1zM984 664h1v35h-1zM992 664h1v41h-1zM1000 664h1v45h-1zM1008 664h1v46h-1zM1016 664h1v46h-1zM1024 664h1v46h-1zM1032 664h1v46h-1zM1040 664h1v48h-1zM1048 664h1v47h-1zM1056 664h1v46h-1zM1064 664h1v44h-1zM1072 664h1v43h-1zM1080 664h1v38h-1zM1088 664h1v44h-1zM1096 664h1v48h-1zM1104 664h1v52h-1zM1112 664h1v54h-1zM1120 664h1v56h-1zM1128 664h1v54h-1zM1136 664h1v52h-1zM1144 664h1v56h-1zM1152 664h1v61h-1zM1160 664h1v62h-1zM1168 664h1v64h-1zM1176 664h1v70h-1zM1184 664h1v67h-1zM1192 664h1v67h-1zM1200 664h1v66h-1zM1208 664h1v61h-1zM1216 664h1v59h-1zM1224 664h1v56h-1zM1232 664h1v48h-1zM1240 664h1v42h-1zM1248 664h1v38h-1zM1256 664h1v32h-1zM1264 664h1v26h-1zM1272 664h1v25h-1zM1280 664h1v22h-1zM1288 664h1v18h-1zM1296 664h1v15h-1zM1304 664h1v12h-1zM1312 664h1v7h-1zM1320 659h1v6h-1zM1328 645h1v20h-1zM1336 633h1v32h-1zM1344 624h1v41h-1zM1352 617h1v48h-1zM1360 610h1v55h-1zM1368 602h1v63h-1zM1376 594h1v71h-1zM1384 595h1v70h-1zM1392 596h1v69h-1zM1400 597h1v68h-1zM1408 595h1v70h-1zM1416 600h1v65h-1zM1424 606h1v59h-1zM1432 612h1v53h-1zM1440 617h1v48h-1zM1448 621h1v44h-1z" fill="#c0c0c0"/>
<path d="M0 647h1v1h-1zM4 651h1v1h-1zM5 651h1v1h-1zM6 652h1v1h-1zM10 656h1v1h-1zM11 657h1v1h-1zM12 658h1v1h-1zM16 662h1v2h-1zM17 664h1v1h-1zM18 665h1v1h-1zM22 669h1v1h-1zM23 670h1v1h-1zM24 671h1v1h-1zM28 676h1v1h-1zM29 677h1v1h-1zM30 678h1v2h-1zM34 683h1v1h-1zM35 684h1v1h-1zM36 685h1v1h-1zM40 689h1v1h-1zM41 690h1v1h-1zM42 691h1v1h-1zM46 696h1v1h-1zM47 697h1v1h-1zM48 698h1v1h-1zM52 702h1v1h-1zM53 703h1v1h-1zM54 704h1v1h-1zM58 707h1v1h-1zM59 708h1v1h-1zM60 709h1v1h-1zM64 712h1v1h-1zM65 712h1v1h-1zM66 713h1v1h-1zM70 715h1v1h-1zM71 715h1v1h-1zM72 716h1v1h-1zM76 717h1v1h-1zM77 717h1v1h-1zM78 717h1v1h-1zM82 718h1v1h-1zM83 718h1v1h-1zM84 718h1v1h-1zM88 717h1v1h-1zM89 717h1v1h-1zM90 717h1v1h-1zM94 715h1v1h-1zM95 715h1v1h-1zM96 715h1v1h-1zM100 712h1v1h-1zM101 711h1v1h-1zM102 710h1v1h-1zM106 707h1v1h-1zM107 707h1v1h-1zM108 706h1v1h-1zM112 704h1v1h-1zM113 703h1v1h-1zM114 702h1v1h-1zM118 700h1v1h-1zM119 699h1v1h-1zM120 698h1v1h-1zM124 695h1v1h-1zM125 695h1v1h-1zM126 694h1v1h-1zM130 691h1v1h-1zM131 690h1v1h-1zM132 690h1v1h-1zM136 687h1v1h-1zM137 686h1v1h-1zM138 686h1v1h-1zM142 683h1v1h-1zM143 683h1v1h-1zM144 682h1v1h-1zM148 680h1v1h-1zM149 680h1v1h-1zM150 679h1v1h-1zM154 677h1v1h-1zM155 677h1v1h-1zM156 676h1v1h-1zM160 674h1v1h-1zM161 674h1v1h-1zM162 673h1v1h-1zM166 671h1v1h-1zM167 671h1v1h-1zM168 670h1v1h-1zM172 669h1v1h-1zM173 668h1v1h-1zM174 668h1v1h-1zM178 667h1v1h-1zM179 667h1v1h-1zM180 666h1v1h-1zM184 665h1v1h-1zM185 665h1v1h-1zM186 665h1v1h-1zM190 664h1v1h-1zM191 664h1v1h-1zM192 664h1v1h-1zM196 663h1v1h-1zM197 663h1v1h-1zM198 663h1v1h-1zM202 662h1v1h-1zM203 662h1v1h-1zM204 661h1v1h-1zM208 660h1v1h-1zM209 660h1v1h-1zM210 660h1v1h-1zM214 660h1v1h-1zM215 660h1v1h-1zM216 660h1v1h-1zM220 659h1v1h-1zM221 659h1v1h-1zM222 659h1v1h-1zM226 659h1v1h-1zM227 659h1v1h-1zM228 659h1v1h-1zM232 659h1v1h-1zM233 659h1v1h-1zM234 659h1v1h-1zM238 660h1v1h-1zM239 660h1v1h-1zM240 660h1v1h-1zM244 661h1v1h-1zM245 661h1v1h-1zM246 661h1v1h-1zM250 663h1v1h-1zM251 663h1v1h-1zM252 663h1v1h-1zM256 664h1v1h-1zM257 665h1v1h-1zM258 665h1v1h-1zM262 667h1v1h-1zM263 667h1v1h-1zM264 668h1v1h-1zM268 670h1v1h-1zM269 671h1v1h-1zM270 671h1v1h-1zM274 674h1v1h-1zM275 675h1v1h-1zM276 676h1v1h-1zM280 680h1v1h-1zM281 680h1v1h-1zM282 681h1v1h-1zM286 685h1v1h-1zM287 686h1v1h-1zM288 687h1v1h-1zM292 692h1v1h-1zM293 693h1v1h-1zM294 694h1v2h-1zM298 699h1v1h-1zM299 700h1v1h-1zM300 701h1v1h-1zM304 706h1v1h-1zM305 707h1v1h-1zM306 708h1v1h-1zM310 713h1v1h-1zM311 714h1v1h-1zM312 715h1v1h-1zM316 720h1v1h-1zM317 721h1v1h-1zM318 722h1v1h-1zM322 726h1v1h-1zM323 727h1v1h-1zM324 728h1v1h-1zM328 732h1v1h-1zM329 733h1v1h-1zM330 734h1v1h-1zM334 738h1v1h-1zM335 739h1v1h-1zM336 739h1v1h-1zM340 742h1v1h-1zM341 742h1v1h-1zM342 743h1v1h-1zM346 745h1v1h-1zM347 745h1v1h-1zM348 745h1v1h-1zM352 746h1v1h-1zM353 746h1v1h-1zM354 746h1v1h-1zM358 745h1v1h-1zM359 745h1v1h-1zM360 745h1v1h-1zM364 744h1v1h-1zM365 743h1v1h-1zM366 743h1v1h-1zM370 741h1v1h-1zM371 741h1v1h-1zM372 740h1v1h-1zM376 738h1v1h-1zM377 738h1v1h-1zM378 737h1v1h-1zM382 735h1v1h-1zM383 735h1v1h-1zM384 734h1v1h-1zM388 732h1v1h-1zM389 731h1v1h-1zM390 731h1v1h-1zM394 729h1v1h-1zM395 728h1v1h-1zM396 727h1v1h-1zM400 725h1v1h-1zM401 725h1v1h-1zM402 724h1v1h-1zM406 721h1v1h-1zM407 721h1v1h-1zM408 720h1v1h-1zM412 718h1v1h-1zM413 718h1v1h-1zM414 717h1v1h-1zM418 715h1v1h-1zM419 714h1v1h-1zM420 714h1v1h-1zM424 711h1v1h-1zM425 711h1v1h-1zM426 710h1v1h-1zM430 708h1v1h-1zM431 707h1v1h-1zM432 707h1v1h-1zM436 704h1v1h-1zM437 704h1v1h-1zM438 703h1v1h-1zM442 701h1v1h-1zM443 700h1v1h-1zM444 699h1v1h-1zM448 696h1v1h-1zM449 696h1v1h-1zM450 695h1v1h-1zM454 691h1v1h-1zM455 690h1v1h-1zM456 689h1v1h-1zM460 685h1v1h-1zM461 684h1v1h-1zM462 683h1v1h-1zM466 679h1v1h-1zM467 678h1v1h-1zM468 677h1v1h-1zM472 672h1v2h-1zM473 671h1v1h-1zM474 670h1v1h-1zM478 666h1v1h-1zM479 664h1v2h-1zM480 663h1v1h-1zM484 659h1v1h-1zM485 657h1v2h-1zM486 656h1v1h-1zM490 652h1v1h-1zM491 651h1v1h-1zM492 650h1v1h-1zM496 646h1v1h-1zM497 645h1v1h-1zM498 645h1v1h-1zM502 643h1v1h-1zM503 643h1v1h-1zM504 642h1v1h-1zM508 642h1v1h-1zM509 642h1v1h-1zM510 642h1v1h-1zM514 642h1v1h-1zM515 642h1v1h-1zM516 642h1v1h-1zM520 643h1v1h-1zM521 643h1v1h-1zM522 643h1v1h-1zM526 644h1v1h-1zM527 645h1v1h-1zM528 645h1v1h-1zM532 647h1v1h-1zM533 647h1v1h-1zM534 648h1v1h-1zM538 650h1v1h-1zM539 651h1v1h-1zM540 651h1v1h-1zM544 654h1v1h-1zM545 655h1v1h-1zM546 656h1v1h-1zM550 659h1v1h-1zM551 660h1v1h-1zM552 661h1v1h-1zM556 665h1v1h-1zM557 666h1v1h-1zM558 667h1v1h-1zM562 671h1v1h-1zM563 672h1v1h-1zM564 673h1v1h-1zM568 678h1v1h-1zM569 679h1v1h-1zM570 680h1v1h-1zM574 683h1v1h-1zM575 683h1v1h-1zM576 684h1v1h-1zM580 687h1v1h-1zM581 688h1v1h-1zM582 689h1v1h-1zM586 691h1v1h-1zM587 692h1v1h-1zM588 692h1v1h-1zM592 694h1v1h-1zM593 695h1v1h-1zM594 695h1v1h-1zM598 697h1v1h-1zM599 697h1v1h-1zM600 698h1v1h-1zM604 699h1v1h-1zM605 700h1v1h-1zM606 700h1v1h-1zM610 701h1v1h-1zM611 702h1v1h-1zM612 702h1v1h-1zM616 703h1v1h-1zM617 703h1v1h-1zM618 703h1v1h-1zM622 703h1v1h-1zM623 703h1v1h-1zM624 703h1v1h-1zM628 703h1v1h-1zM629 703h1v1h-1zM630 702h1v1h-1zM634 702h1v1h-1zM635 701h1v1h-1zM636 701h1v1h-1zM640 700h1v1h-1zM641 700h1v1h-1zM642 700h1v1h-1zM646 699h1v1h-1zM647 698h1v1h-1zM648 698h1v1h-1zM652 698h1v1h-1zM653 698h1v1h-1zM654 697h1v1h-1zM658 697h1v1h-1zM659 697h1v1h-1zM660 696h1v1h-1zM664 696h1v1h-1zM665 695h1v1h-1zM666 695h1v1h-1zM670 695h1v1h-1zM671 695h1v1h-1zM672 695h1v1h-1zM676 694h1v1h-1zM677 693h1v1h-1zM678 693h1v1h-1zM682 692h1v1h-1zM683 692h1v1h-1zM684 691h1v1h-1zM688 691h1v1h-1zM689 690h1v1h-1zM690 690h1v1h-1zM694 689h1v1h-1zM695 689h1v1h-1zM696 688h1v1h-1zM700 687h1v1h-1zM701 687h1v1h-1zM702 687h1v1h-1zM706 685h1v1h-1zM707 685h1v1h-1zM708 685h1v1h-1zM712 683h1v1h-1zM713 682h1v1h-1zM714 682h1v1h-1zM718 680h1v1h-1zM719 680h1v1h-1zM720 679h1v1h-1zM724 677h1v1h-1zM725 677h1v1h-1zM726 677h1v1h-1zM730 675h1v1h-1zM731 674h1v1h-1zM732 674h1v1h-1zM736 672h1v1h-1zM737 672h1v1h-1zM738 671h1v1h-1zM742 670h1v1h-1zM743 669h1v1h-1zM744 669h1v1h-1zM748 668h1v1h-1zM749 668h1v1h-1zM750 667h1v1h-1zM754 666h1v1h-1zM755 666h1v1h-1zM756 666h1v1h-1zM760 665h1v1h-1zM761 665h1v1h-1zM762 665h1v1h-1zM766 665h1v1h-1zM767 665h1v1h-1zM768 665h1v1h-1zM772 665h1v1h-1zM773 665h1v1h-1zM774 665h1v1h-1zM778 665h1v1h-1zM779 665h1v1h-1zM780 665h1v1h-1zM784 665h1v1h-1zM785 665h1v1h-1zM786 665h1v1h-1zM790 665h1v1h-1zM791 665h1v1h-1zM792 665h1v1h-1zM796 666h1v1h-1zM797 666h1v1h-1zM798 666h1v1h-1zM802 666h1v1h-1zM803 666h1v1h-1zM804 666h1v1h-1zM808 667h1v1h-1zM809 667h1v1h-1zM810 667h1v1h-1zM814 667h1v1h-1zM815 667h1v1h-1zM816 667h1v1h-1zM820 667h1v1h-1zM821 667h1v1h-1zM822 666h1v1h-1zM826 666h1v1h-1zM827 666h1v1h-1zM828 666h1v1h-1zM832 665h1v1h-1zM833 664h1v1h-1zM834 664h1v1h-1zM838 663h1v1h-1zM839 663h1v1h-1zM840 662h1v1h-1zM844 661h1v1h-1zM845 661h1v1h-1zM846 661h1v1h-1zM850 660h1v1h-1zM851 659h1v1h-1zM852 659h1v1h-1zM856 658h1v1h-1zM857 658h1v1h-1zM858 658h1v1h-1zM862 658h1v1h-1zM863 657h1v1h-1zM864 657h1v1h-1zM868 657h1v1h-1zM869 657h1v1h-1zM870 656h1v1h-1zM874 656h1v1h-1zM875 656h1v1h-1zM876 656h1v1h-1zM880 655h1v1h-1zM881 655h1v1h-1zM882 655h1v1h-1zM886 655h1v1h-1zM887 655h1v1h-1zM888 655h1v1h-1zM892 656h1v1h-1zM893 656h1v1h-1zM894 656h1v1h-1zM898 658h1v1h-1zM899 658h1v1h-1zM900 658h1v1h-1zM904 659h1v1h-1zM905 659h1v1h-1zM906 660h1v1h-1zM910 661h1v1h-1zM911 661h1v1h-1zM912 661h1v1h-1zM916 663h1v1h-1zM917 663h1v1h-1zM918 664h1v1h-1zM922 665h1v1h-1zM923 665h1v1h-1zM924 666h1v1h-1zM928 667h1v1h-1zM929 667h1v1h-1zM930 668h1v1h-1zM934 670h1v1h-1zM935 670h1v1h-1zM936 671h1v1h-1zM940 672h1v1h-1zM941 673h1v1h-1zM942 673h1v1h-1zM946 675h1v1h-1zM947 675h1v1h-1zM948 676h1v1h-1zM952 678h1v1h-1zM953 678h1v1h-1zM954 679h1v1h-1zM958 680h1v1h-1zM959 680h1v1h-1zM960 680h1v1h-1zM964 682h1v1h-1zM965 682h1v1h-1zM966 683h1v1h-1zM970 684h1v1h-1zM971 684h1v1h-1zM972 684h1v1h-1zM976 685h1v1h-1zM977 685h1v1h-1zM978 686h1v1h-1zM982 687h1v1h-1zM983 687h1v1h-1zM984 687h1v1h-1zM988 689h1v1h-1zM989 689h1v1h-1zM990 690h1v1h-1zM994 691h1v1h-1zM995 692h1v1h-1zM996 692h1v1h-1zM1000 694h1v1h-1zM1001 694h1v1h-1zM1002 695h1v1h-1zM1006 696h1v1h-1zM1007 697h1v1h-1zM1008 697h1v1h-1zM1012 698h1v1h-1zM1013 698h1v1h-1zM1014 698h1v1h-1zM1018 699h1v1h-1zM1019 700h1v1h-1zM1020 700h1v1h-1zM1024 702h1v1h-1zM1025 702h1v1h-1zM1026 702h1v1h-1zM1030 704h1v1h-1zM1031 705h1v1h-1zM1032 705h1v1h-1zM1036 706h1v1h-1zM1037 706h1v1h-1zM1038 707h1v1h-1zM1042 708h1v1h-1zM1043 708h1v1h-1zM1044 708h1v1h-1zM1048 709h1v1h-1zM1049 709h1v1h-1zM1050 709h1v1h-1zM1054 710h1v1h-1zM1055 710h1v1h-1zM1056 710h1v1h-1zM1060 711h1v1h-1zM1061 711h1v1h-1zM1062 711h1v1h-1zM1066 711h1v1h-1zM1067 711h1v1h-1zM1068 711h1v1h-1zM1072 711h1v1h-1zM1073 711h1v1h-1zM1074 711h1v1h-1zM1078 710h1v1h-1zM1079 710h1v1h-1zM1080 710h1v1h-1zM1084 710h1v1h-1zM1085 710h1v1h-1zM1086 709h1v1h-1zM1090 709h1v1h-1zM1091 709h1v1h-1zM1092 709h1v1h-1zM1096 709h1v1h-1zM1097 709h1v1h-1zM1098 709h1v1h-1zM1102 710h1v1h-1zM1103 710h1v1h-1zM1104 710h1v1h-1zM1108 711h1v1h-1zM1109 711h1v1h-1zM1110 711h1v1h-1zM1114 712h1v1h-1zM1115 712h1v1h-1zM1116 712h1v1h-1zM1120 712h1v1h-1zM1121 712h1v1h-1zM1122 712h1v1h-1zM1126 712h1v1h-1zM1127 712h1v1h-1zM1128 712h1v1h-1zM1132 713h1v1h-1zM1133 713h1v1h-1zM1134 713h1v1h-1zM1138 714h1v1h-1zM1139 715h1v1h-1zM1140 715h1v1h-1zM1144 715h1v1h-1zM1145 716h1v1h-1zM1146 716h1v1h-1zM1150 717h1v1h-1zM1151 717h1v1h-1zM1152 717h1v1h-1zM1156 718h1v1h-1zM1157 718h1v1h-1zM1158 719h1v1h-1zM1162 719h1v1h-1zM1163 720h1v1h-1zM1164 720h1v1h-1zM1168 721h1v1h-1zM1169 721h1v1h-1zM1170 722h1v1h-1zM1174 723h1v1h-1zM1175 723h1v1h-1zM1176 723h1v1h-1zM1180 724h1v1h-1zM1181 724h1v1h-1zM1182 724h1v1h-1zM1186 725h1v1h-1zM1187 725h1v1h-1zM1188 726h1v1h-1zM1192 726h1v1h-1zM1193 726h1v1h-1zM1194 726h1v1h-1zM1198 727h1v1h-1zM1199 727h1v1h-1zM1200 727h1v1h-1zM1204 728h1v1h-1zM1205 728h1v1h-1zM1206 728h1v1h-1zM1210 729h1v1h-1zM1211 729h1v1h-1zM1212 729h1v1h-1zM1216 729h1v1h-1zM1217 729h1v1h-1zM1218 729h1v1h-1zM1222 729h1v1h-1zM1223 729h1v1h-1zM1224 729h1v1h-1zM1228 728h1v1h-1zM1229 727h1v1h-1zM1230 727h1v1h-1zM1234 726h1v1h-1zM1235 726h1v1h-1zM1236 725h1v1h-1zM1240 724h1v1h-1zM1241 724h1v1h-1zM1242 723h1v1h-1zM1246 721h1v1h-1zM1247 721h1v1h-1zM1248 720h1v1h-1zM1252 718h1v1h-1zM1253 718h1v1h-1zM1254 718h1v1h-1zM1258 716h1v1h-1zM1259 715h1v1h-1zM1260 714h1v1h-1zM1264 712h1v1h-1zM1265 712h1v1h-1zM1266 711h1v1h-1zM1270 709h1v1h-1zM1271 709h1v1h-1zM1272 708h1v1h-1zM1276 706h1v1h-1zM1277 705h1v1h-1zM1278 705h1v1h-1zM1282 702h1v1h-1zM1283 702h1v1h-1zM1284 701h1v1h-1zM1288 699h1v1h-1zM1289 698h1v1h-1zM1290 698h1v1h-1zM1294 695h1v1h-1zM1295 695h1v1h-1zM1296 694h1v1h-1zM1300 692h1v1h-1zM1301 692h1v1h-1zM1302 691h1v1h-1zM1306 689h1v1h-1zM1307 689h1v1h-1zM1308 688h1v1h-1zM1312 686h1v1h-1zM1313 685h1v1h-1zM1314 685h1v1h-1zM1318 683h1v1h-1zM1319 682h1v1h-1zM1320 682h1v1h-1zM1324 678h1v1h-1zM1325 677h1v1h-1zM1326 676h1v1h-1zM1330 672h1v1h-1zM1331 672h1v1h-1zM1332 671h1v1h-1zM1336 668h1v1h-1zM1337 667h1v1h-1zM1338 666h1v1h-1zM1342 663h1v1h-1zM1343 662h1v1h-1zM1344 662h1v1h-1zM1348 658h1v1h-1zM1349 657h1v1h-1zM1350 656h1v1h-1zM1354 652h1v1h-1zM1355 651h1v1h-1zM1356 650h1v1h-1zM1360 646h1v1h-1zM1361 645h1v1h-1zM1362 644h1v1h-1zM1366 639h1v1h-1zM1367 638h1v1h-1zM1368 637h1v1h-1zM1372 632h1v1h-1zM1373 631h1v1h-1zM1374 630h1v1h-1zM1378 626h1v1h-1zM1379 625h1v1h-1zM1380 624h1v1h-1zM1384 620h1v1h-1zM1385 619h1v1h-1zM1386 618h1v1h-1zM1390 615h1v1h-1zM1391 614h1v1h-1zM1392 613h1v1h-1zM1396 610h1v1h-1zM1397 609h1v1h-1zM1398 608h1v1h-1zM1402 605h1v1h-1zM1403 605h1v1h-1zM1404 604h1v1h-1zM1408 602h1v1h-1zM1409 602h1v1h-1zM1410 601h1v1h-1zM1414 600h1v1h-1zM1415 600h1v1h-1zM1416 599h1v1h-1zM1420 599h1v1h-1zM1421 599h1v1h-1zM1422 599h1v1h-1zM1426 598h1v1h-1zM1427 599h1v1h-1zM1428 599h1v1h-1zM1432 599h1v1h-1zM1433 599h1v1h-1zM1434 600h1v1h-1zM1438 600h1v1h-1zM1439 601h1v1h-1zM1440 601h1v1h-1zM1444 602h1v1h-1zM1445 602h1v1h-1zM1446 602h1v1h-1z" fill="#ff0000"/>
<path d="M0 801.5H1627" stroke="#c8c8c8" stroke-width="1" stroke-dasharray="3 3" fill="none"/>
<path d="M0 848.5H1627" stroke="#c8c8c8" stroke-width="1" stroke-dasharray="3 3" fill="none"/>
<path d="M0 904.5H1627" stroke="#c8c8c8" stroke-width="1" stroke-dasharray="3 3" fill="none"/>
<polyline fill="none" stroke="#1e90ff" stroke-width="1"  points="0.5,855.3 8.5,864.6 16.5,878.4 24.5,884.7 32.5,877.2 40.5,867.1 48.5,863.4 56.5,862.6 64.5,861.6 72.5,841.5 80.5,844.5 88.5,845.8 96.5,848.8 104.5,850.1 112.5,849.6 120.5,846.6 128.5,847.8 136.5,842.5 144.5,847.1 152.5,844.5 160.5,833.8 168.5,844.5 176.5,848.8 184.5,845.8 192.5,855.8 200.5,853.3 208.5,840 216.5,852.6 224.5,836.5 232.5,860.1 240.5,850.8 248.5,855.3 256.5,861.6 264.5,867.6 272.5,872.6 280.5,872.9 288.5,869.6 296.5,875.9 304.5,857.1 312.5,867.9 320.5,870.9 328.5,867.9 336.5,864.6 344.5,858.3 352.5,848.8 360.5,843.8 368.5,848.8 376.5,856.6 384.5,857.1 392.5,860.1 400.5,865.9 408.5,861.6 416.5,842.8 424.5,844 432.5,842 440.5,834 448.5,838.8 456.5,835.8 464.5,840 472.5,837.8 480.5,839 488.5,835.8 496.5,848.3 504.5,860.9 512.5,857.8 520.5,860.1 528.5,855.8 536.5,854.6 544.5,860.9 552.5,870.9 560.5,864.6 568.5,862.6 576.5,855.8 584.5,857.6 592.5,860.1 600.5,860.1 608.5,855.1 616.5,856.3 624.5,849.6 632.5,852.8 640.5,855.8 648.5,859.1 656.5,857.1 664.5,856.1 672.5,855.8 680.5,851.3 688.5,845 696.5,840 704.5,842 712.5,840.8 720.5,839.8 728.5,840 736.5,851.3 744.5,855.8 752.5,859.1 760.5,860.9 768.5,849.6 776.5,855.8 784.5,842.8 792.5,845.8 800.5,849.6 808.5,846.5 816.5,841.3 824.5,838.8 832.5,835.3 840.5,837.5 848.5,840.8 856.5,840.8 864.5,846.6 872.5,852.8 880.5,845 888.5,867.1 896.5,865.9 904.5,867.9 912.5,860.1 920.5,864.6 928.5,857.8 936.5,867.9 944.5,863.9 952.5,865.1 960.5,863.4 968.5,868.9 976.5,874.6 984.5,878.9 992.5,884.7 1000.5,884.7 1008.5,876.7 1016.5,877.9 1024.5,873.9 1032.5,877.9 1040.5,879.9 1048.5,879.9 1056.5,879.9 1064.5,871.6 1072.5,872.9 1080.5,856.6 1088.5,883.9 1096.5,881.9 1104.5,883.9 1112.5,884.9 1120.5,886.7 1128.5,868.9 1136.5,872.1 1144.5,884.7 1152.5,884.7 1160.5,883.7 1168.5,885.4 1176.5,892.7 1184.5,872.9 1192.5,874.9 1200.5,873.3 1208.5,869.3 1216.5,866.8 1224.5,869.5 1232.5,852.5 1240.5,853.9 1248.5,857.6 1256.5,850.5 1264.5,846.3 1272.5,855.4 1280.5,854.8 1288.5,846.3 1296.5,849.7 1304.5,844.9 1312.5,838.4 1320.5,820 1328.5,814.3 1336.5,811.5 1344.5,812.6 1352.5,811.5 1360.5,808.6 1368.5,805.2 1376.5,801.8 1384.5,827.6 1392.5,825.6 1400.5,824.5 1408.5,819.7 1416.5,834.1 1424.5,840.6 1432.5,840.6 1440.5,840.6 1448.5,840.6"/>
</g>
<text transform="translate(1632.6 54) scale(0.95 1)" font-size="9.9" fill="#000" text-anchor="start" >1.32725</text>
<text transform="translate(1632.6 87) scale(0.95 1)" font-size="9.9" fill="#000" text-anchor="start" >1.32465</text>
<text transform="translate(1632.6 120) scale(0.95 1)" font-size="9.9" fill="#000" text-anchor="start" >1.32205</text>
<text transform="translate(1632.6 153) scale(0.95 1)" font-size="9.9" fill="#000" text-anchor="start" >1.31945</text>
<text transform="translate(1632.6 186) scale(0.95 1)" font-size="9.9" fill="#000" text-anchor="start" >1.31685</text>
<text transform="translate(1632.6 219) scale(0.95 1)" font-size="9.9" fill="#000" text-anchor="start" >1.31425</text>
<text transform="translate(1632.6 252) scale(0.95 1)" font-size="9.9" fill="#000" text-anchor="start" >1.31165</text>
<text transform="translate(1632.6 285) scale(0.95 1)" font-size="9.9" fill="#000" text-anchor="start" >1.30905</text>
<text transform="translate(1632.6 318) scale(0.95 1)" font-size="9.9" fill="#000" text-anchor="start" >1.30640</text>
<text transform="translate(1632.6 351) scale(0.95 1)" font-size="9.9" fill="#000" text-anchor="start" >1.30380</text>
<text transform="translate(1632.6 384) scale(0.95 1)" font-size="9.9" fill="#000" text-anchor="start" >1.30120</text>
<text transform="translate(1632.6 417) scale(0.95 1)" font-size="9.9" fill="#000" text-anchor="start" >1.29860</text>
<text transform="translate(1632.6 450) scale(0.95 1)" font-size="9.9" fill="#000" text-anchor="start" >1.29600</text>
<text transform="translate(1632.6 483) scale(0.95 1)" font-size="9.9" fill="#000" text-anchor="start" >1.29340</text>
<text transform="translate(1632.6 516) scale(0.95 1)" font-size="9.9" fill="#000" text-anchor="start" >1.29080</text>
<text transform="translate(1632.6 549) scale(0.95 1)" font-size="9.9" fill="#000" text-anchor="start" >1.28820</text>
<text transform="translate(1632.6 582) scale(0.95 1)" font-size="9.9" fill="#000" text-anchor="start" >1.28560</text>
<rect x="1629" y="297" width="41" height="11" fill="#ff0000" shape-rendering="crispEdges"/>
<text transform="translate(1632.6 306) scale(0.95 1)" font-size="9.9" fill="#fff" text-anchor="start" >1.30729</text>
<rect x="1629" y="322" width="41" height="11" fill="#ff0000" shape-rendering="crispEdges"/>
<text transform="translate(1632.6 331) scale(0.95 1)" font-size="9.9" fill="#fff" text-anchor="start" >1.30534</text>
<rect x="1629" y="352" width="41" height="11" fill="#000000" shape-rendering="crispEdges"/>
<text transform="translate(1632.6 361) scale(0.95 1)" font-size="9.9" fill="#fff" text-anchor="start" >1.30307</text>
<rect x="1629" y="364" width="41" height="11" fill="#32cd32" shape-rendering="crispEdges"/>
<text transform="translate(1632.6 373) scale(0.95 1)" font-size="9.9" fill="#fff" text-anchor="start" >1.30203</text>
<rect x="1629" y="394" width="41" height="11" fill="#0000ff" shape-rendering="crispEdges"/>
<text transform="translate(1632.6 403) scale(0.95 1)" font-size="9.9" fill="#fff" text-anchor="start" >1.29966</text>
<rect x="1629" y="424" width="41" height="11" fill="#0000ff" shape-rendering="crispEdges"/>
<text transform="translate(1632.6 433) scale(0.95 1)" font-size="9.9" fill="#fff" text-anchor="start" >1.29730</text>
<text transform="translate(1630.7 593.7) scale(0.95 1)" font-size="9.9" fill="#000" text-anchor="start" >0.003912</text>
<text transform="translate(1630.7 667.6) scale(0.95 1)" font-size="9.9" fill="#000" text-anchor="start" >0.00</text>
<text transform="translate(1630.7 762.8) scale(0.95 1)" font-size="9.9" fill="#000" text-anchor="start" >-0.004944</text>
<text transform="translate(1630.4 779) scale(0.95 1)" font-size="9.9" fill="#000" text-anchor="start" >100</text>
<text transform="translate(1630.4 805) scale(0.95 1)" font-size="9.9" fill="#000" text-anchor="start" >80</text>
<text transform="translate(1630.4 852) scale(0.95 1)" font-size="9.9" fill="#000" text-anchor="start" >50</text>
<text transform="translate(1630.4 908) scale(0.95 1)" font-size="9.9" fill="#000" text-anchor="start" >15</text>
<text transform="translate(1630.4 925) scale(0.95 1)" font-size="9.9" fill="#000" text-anchor="start" >0</text>
<text transform="translate(-1.1 940.7) scale(0.95 1)" font-size="9.9" fill="#000" text-anchor="start" >21 Mar 2019</text>
<text transform="translate(62.9 940.7) scale(0.95 1)" font-size="9.9" fill="#000" text-anchor="start" >22 Mar 08:00</text>
<text transform="translate(126.9 940.7) scale(0.95 1)" font-size="9.9" fill="#000" text-anchor="start" >25 Mar 16:00</text>
<text transform="translate(190.9 940.7) scale(0.95 1)" font-size="9.9" fill="#000" text-anchor="start" >27 Mar 00:00</text>
<text transform="translate(254.9 940.7) scale(0.95 1)" font-size="9.9" fill="#000" text-anchor="start" >28 Mar 08:00</text>
<text transform="translate(318.9 940.7) scale(0.95 1)" font-size="9.9" fill="#000" text-anchor="start" >29 Mar 16:00</text>
<text transform="translate(382.9 940.7) scale(0.95 1)" font-size="9.9" fill="#000" text-anchor="start" >2 Apr 00:00</text>
<text transform="translate(446.9 940.7) scale(0.95 1)" font-size="9.9" fill="#000" text-anchor="start" >3 Apr 08:00</text>
<text transform="translate(510.9 940.7) scale(0.95 1)" font-size="9.9" fill="#000" text-anchor="start" >4 Apr 16:00</text>
<text transform="translate(574.9 940.7) scale(0.95 1)" font-size="9.9" fill="#000" text-anchor="start" >8 Apr 00:00</text>
<text transform="translate(638.9 940.7) scale(0.95 1)" font-size="9.9" fill="#000" text-anchor="start" >9 Apr 08:00</text>
<text transform="translate(702.9 940.7) scale(0.95 1)" font-size="9.9" fill="#000" text-anchor="start" >10 Apr 16:00</text>
<text transform="translate(766.9 940.7) scale(0.95 1)" font-size="9.9" fill="#000" text-anchor="start" >12 Apr 00:00</text>
<text transform="translate(830.9 940.7) scale(0.95 1)" font-size="9.9" fill="#000" text-anchor="start" >15 Apr 08:00</text>
<text transform="translate(894.9 940.7) scale(0.95 1)" font-size="9.9" fill="#000" text-anchor="start" >16 Apr 16:00</text>
<text transform="translate(958.9 940.7) scale(0.95 1)" font-size="9.9" fill="#000" text-anchor="start" >18 Apr 00:00</text>
<text transform="translate(1022.9 940.7) scale(0.95 1)" font-size="9.9" fill="#000" text-anchor="start" >22 Apr 04:00</text>
<text transform="translate(1086.9 940.7) scale(0.95 1)" font-size="9.9" fill="#000" text-anchor="start" >23 Apr 12:00</text>
<text transform="translate(1150.9 940.7) scale(0.95 1)" font-size="9.9" fill="#000" text-anchor="start" >24 Apr 20:00</text>
<text transform="translate(1214.9 940.7) scale(0.95 1)" font-size="9.9" fill="#000" text-anchor="start" >26 Apr 04:00</text>
<text transform="translate(1278.9 940.7) scale(0.95 1)" font-size="9.9" fill="#000" text-anchor="start" >29 Apr 12:00</text>
<text transform="translate(1342.9 940.7) scale(0.95 1)" font-size="9.9" fill="#000" text-anchor="start" >30 Apr 20:00</text>
<text transform="translate(1406.9 940.7) scale(0.95 1)" font-size="9.9" fill="#000" text-anchor="start" >2 May 04:00</text>
<text transform="translate(14.4 40.4) scale(0.95 1)" font-size="9.9" fill="#000" text-anchor="start" >GBPUSD-,H4&#160; 1.30315 1.30325 1.30306 1.30307</text>
<path d="M3 39l3.500-4l3.500 4z" fill="#000"/>
<text transform="translate(4 596) scale(0.95 1)" font-size="9.9" fill="#000" text-anchor="start" >MACD(12,26,9) 0.002161 0.002988</text>
<text transform="translate(4 781) scale(0.95 1)" font-size="9.9" fill="#000" text-anchor="start" >RSI(14) 55.2014</text>
<g shape-rendering="crispEdges">
<rect x="3" y="48" width="220" height="66" fill="#fff"/>
<rect x="3" y="48" width="52" height="24" fill="url(#rg1)"/><rect x="170" y="48" width="52" height="24" fill="url(#rg1)"/>
<rect x="3" y="72" width="109" height="40" fill="url(#rg2)"/><rect x="114" y="72" width="108" height="40" fill="url(#rg2)"/>
<rect x="3" y="48" width="52" height="1" fill="#d42020"/><rect x="170" y="48" width="52" height="1" fill="#d42020"/>
<rect x="3" y="48" width="1" height="64" fill="#c41616"/><rect x="114" y="72" width="1" height="40" fill="#c41616"/><rect x="170" y="48" width="1" height="24" fill="#c41616"/>
<rect x="3" y="111" width="109" height="1" fill="#9c0000"/><rect x="114" y="111" width="108" height="1" fill="#9c0000"/>
<rect x="7" y="71" width="44" height="1" fill="#9c0c0c"/><rect x="174" y="71" width="44" height="1" fill="#9c0c0c"/>
<rect x="7" y="72" width="44" height="1" fill="#f46868"/><rect x="174" y="72" width="44" height="1" fill="#f46868"/>
<rect x="57.500" y="48.500" width="110" height="21" fill="#fff" stroke="#a6a6a6"/>
<rect x="58" y="49" width="20" height="20" fill="#e6e6e6"/><rect x="147" y="49" width="20" height="20" fill="#e6e6e6"/>
<rect x="78" y="49" width="1" height="20" fill="#b0b0b0"/><rect x="146" y="49" width="1" height="20" fill="#b0b0b0"/>
</g>
<path d="M65 57h6l-3 3.200z" fill="#000"/><path d="M154 60.200h6l-3-3.200z" fill="#000"/>
<text x="143.500" y="63.500" font-size="12.500" fill="#1a1a1a" text-anchor="end">1.00</text>
<text x="15.300" y="63.900" font-size="11.800" fill="#fff" textLength="25.800" lengthAdjust="spacingAndGlyphs">SELL</text>
<text x="183.600" y="63.900" font-size="11.800" fill="#fff" textLength="22.600" lengthAdjust="spacingAndGlyphs">BUY</text>
<text x="23.3" y="102.800" font-size="11.800" font-weight="bold" fill="#fff">1.30</text>
<text x="51.6" y="102.800" font-size="33.100" fill="#fff" stroke="url(#rg2u)" stroke-width="0.8" textLength="33" lengthAdjust="spacingAndGlyphs">30</text>
<text x="90" y="86.800" font-size="11.800" font-weight="bold" fill="#fff">7</text>
<text x="133.9" y="102.800" font-size="11.800" font-weight="bold" fill="#fff">1.30</text>
<text x="162.2" y="102.800" font-size="33.100" fill="#fff" stroke="url(#rg2u)" stroke-width="0.8" textLength="33" lengthAdjust="spacingAndGlyphs">33</text>
<text x="200.6" y="86.800" font-size="11.800" font-weight="bold" fill="#fff">3</text>
</svg></body></html>
